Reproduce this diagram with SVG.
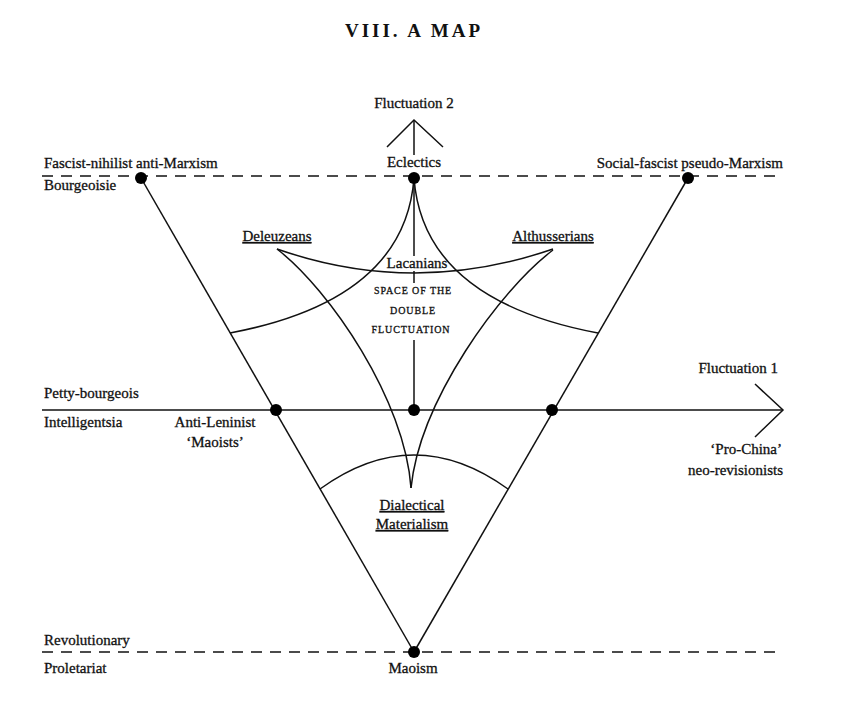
<svg xmlns="http://www.w3.org/2000/svg" width="848" height="710" viewBox="0 0 848 710">
<style>
text{font-family:"Liberation Serif","DejaVu Serif",serif;font-size:15px;fill:#111;stroke:#111;stroke-width:0.3}
.c{text-anchor:middle}
.e{text-anchor:end}
.u{text-decoration:underline}
.sc{font-size:10px;letter-spacing:0.9px;text-anchor:middle}
.ln{stroke:#111;stroke-width:1.5;fill:none}
.ds{stroke:#111;stroke-width:1.5;fill:none;stroke-dasharray:11 8}
.dot{fill:#000}
</style>
<rect width="848" height="710" fill="#fff"/>
<text x="414" y="37" class="c" style="font-size:19px;font-weight:bold;letter-spacing:3px;stroke-width:0">VIII. A MAP</text>

<g id="connectors">
  <line class="ds" x1="42" y1="176" x2="783" y2="176"/>
  <line class="ds" x1="42" y1="652" x2="783" y2="652"/>
  <line class="ln" x1="42" y1="410" x2="783" y2="410"/>
  <polyline class="ln" points="755,384 783,410 755,437"/>
  <line class="ln" x1="414" y1="120" x2="414" y2="155"/>
  <polyline class="ln" points="387,147 414,120 443,147"/>
  <line class="ln" x1="414" y1="178" x2="414" y2="256"/>
  <line class="ln" x1="414" y1="271" x2="414" y2="283"/>
  <line class="ln" x1="414" y1="340" x2="414" y2="410"/>
  <line class="ln" x1="141" y1="178" x2="414" y2="652"/>
  <line class="ln" x1="688" y1="178" x2="414" y2="652"/>
  <path class="ln" d="M414,178 Q405,300 230,333"/>
  <path class="ln" d="M414,178 Q423,300 598,333"/>
  <path class="ln" d="M277,249 Q414,297 553,249"/>
  <path class="ln" d="M277,249 C330,290 405,400 411,488"/>
  <path class="ln" d="M553,250 C500,290 420,400 411,488"/>
  <path class="ln" d="M320,489 Q414,421 508,489"/>
</g>

<g id="fascist-nihilist">
  <circle class="dot" cx="141" cy="178" r="6"/>
  <text x="44" y="168">Fascist-nihilist anti-Marxism</text>
  <text x="44" y="190">Bourgeoisie</text>
</g>
<g id="eclectics">
  <circle class="dot" cx="414" cy="178" r="6"/>
  <text x="414" y="167" class="c">Eclectics</text>
</g>
<g id="fluctuation2">
  <text x="414" y="108" class="c">Fluctuation 2</text>
</g>
<g id="social-fascist">
  <circle class="dot" cx="688" cy="178" r="6"/>
  <text x="783" y="168" class="e">Social-fascist pseudo-Marxism</text>
</g>
<g id="deleuzeans">
  <text x="277" y="241" class="c u">Deleuzeans</text>
</g>
<g id="althusserians">
  <text x="553" y="241" class="c u">Althusserians</text>
</g>
<g id="lacanians">
  <text x="417" y="268" class="c">Lacanians</text>
</g>
<g id="space">
  <text x="413" y="294" class="sc">SPACE OF THE</text>
  <text x="413" y="314" class="sc">DOUBLE</text>
  <text x="411" y="333" class="sc">FLUCTUATION</text>
</g>
<g id="petty-bourgeois">
  <text x="44" y="398">Petty-bourgeois</text>
  <text x="44" y="427">Intelligentsia</text>
</g>
<g id="anti-leninist">
  <circle class="dot" cx="276" cy="410" r="6"/>
  <text x="215" y="427" class="c">Anti-Leninist</text>
  <text x="215" y="447" class="c">‘Maoists’</text>
</g>
<g id="center">
  <circle class="dot" cx="414" cy="410" r="6"/>
</g>
<g id="pro-china">
  <circle class="dot" cx="552" cy="410" r="6"/>
  <text x="782" y="454" class="e">‘Pro-China’</text>
  <text x="783" y="475" class="e">neo-revisionists</text>
</g>
<g id="fluctuation1">
  <text x="778" y="373" class="e">Fluctuation 1</text>
</g>
<g id="dialectical">
  <text x="412" y="510" class="c u">Dialectical</text>
  <text x="412" y="529" class="c u">Materialism</text>
</g>
<g id="proletariat">
  <text x="44" y="645">Revolutionary</text>
  <text x="44" y="673">Proletariat</text>
</g>
<g id="maoism">
  <circle class="dot" cx="414" cy="652" r="6"/>
  <text x="413" y="673" class="c">Maoism</text>
</g>
</svg>
